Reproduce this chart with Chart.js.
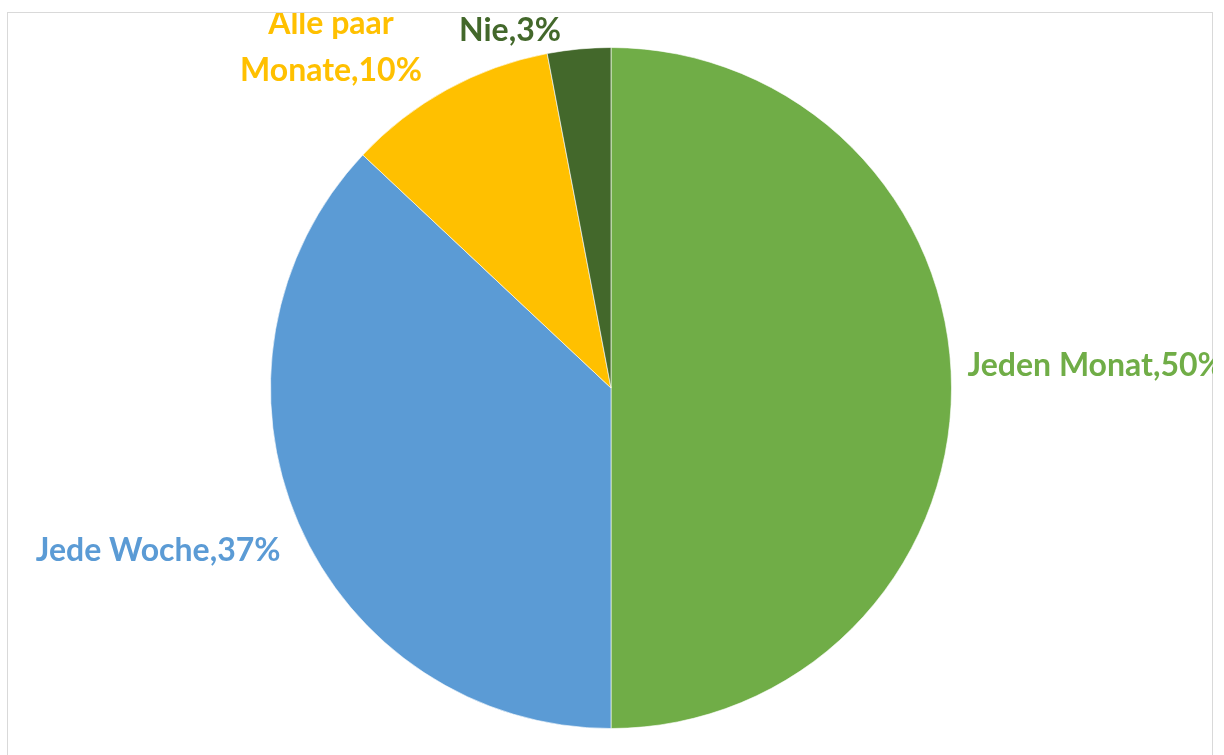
<!DOCTYPE html>
<html>
<head>
<meta charset="utf-8">
<script src="https://cdn.jsdelivr.net/npm/chart.js@4.4.0/dist/chart.umd.min.js"></script>
<style>
  html, body { margin: 0; padding: 0; background: #fff; overflow: hidden; }
  #wrap { position: relative; width: 1224px; height: 755px; }
  #frame { position: absolute; left: 7px; top: 12px; width: 1206px; height: 760px; border: 1px solid #d9d9d9; box-sizing: border-box; }
  canvas { position: absolute; left: 0; top: 0; }
</style>
</head>
<body>
<div id="wrap">
  <div id="frame"></div>
  <canvas id="chart-pie" width="1224" height="755"></canvas>
</div>
<script>
'use strict';
var categories = ['Jeden Monat', 'Jede Woche', 'Alle paar Monate', 'Nie'];
var shares = [50, 37, 10, 3];
var sliceColors = ['#70ad47', '#5b9bd5', '#ffc000', '#43682b'];
var labelColors = ['#70ad47', '#5b9bd5', '#ffc000', '#43682b'];
var labelLines = [['Jeden Monat,50%'], ['Jede Woche,37%'], ['Alle paar', 'Monate,10%'], ['Nie,3%']];

// label placement relative to the slice's outer edge point
var labelPos = [
    { dx: 16, dy: -22, align: 'left' },
    { dx: -18, dy: 27, align: 'right' },
    { dx: -116, dy: -42, align: 'center' },
    { dx: -69, dy: -18, align: 'center' }
];

var outsideLabels = {
    id: 'outsideLabels',
    afterDatasetsDraw: function(chart) {
        var ctx = chart.ctx;
        var meta = chart.getDatasetMeta(0);
        ctx.save();
        ctx.beginPath();
        ctx.rect(8, 13, 1205, 742);
        ctx.clip();
        ctx.font = 'bold 32px Lato';
        ctx.textBaseline = 'middle';
        meta.data.forEach(function(arc, i) {
            var p = arc.getProps(['x', 'y', 'startAngle', 'endAngle', 'outerRadius'], true);
            var mid = (p.startAngle + p.endAngle) / 2;
            var ex = p.x + Math.cos(mid) * p.outerRadius + labelPos[i].dx;
            var ey = p.y + Math.sin(mid) * p.outerRadius + labelPos[i].dy;
            var lines = labelLines[i];
            var lh = 47;
            ctx.fillStyle = labelColors[i];
            ctx.textAlign = labelPos[i].align;
            lines.forEach(function(t, k) {
                ctx.fillText(t, ex, ey + (k - (lines.length - 1) / 2) * lh);
            });
        });
        ctx.restore();
    }
};

var pie = document.getElementById('chart-pie').getContext('2d');
var myPie = new Chart(pie, {
    type: 'pie',
    data: {
        labels: categories,
        datasets: [{
            data: shares,
            backgroundColor: sliceColors,
            borderColor: 'rgba(255,255,255,0.6)',
            borderWidth: 1
        }]
    },
    options: {
        responsive: false,
        animation: false,
        layout: { padding: { top: 47, bottom: 26, left: 0, right: 2 } },
        plugins: {
            legend: { display: false },
            tooltip: { enabled: false }
        }
    },
    plugins: [outsideLabels]
});
</script>
</body>
</html>
